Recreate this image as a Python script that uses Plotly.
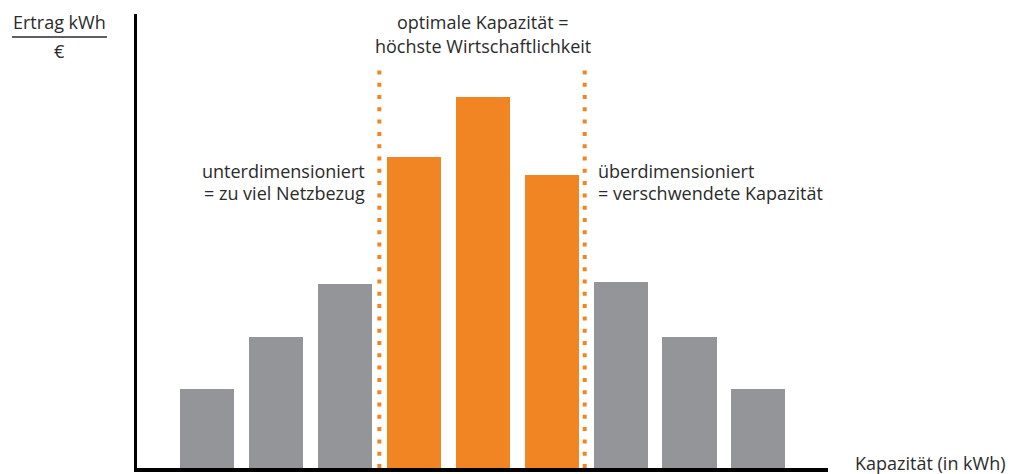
import plotly.graph_objects as go

# Data
categories = list(range(9))
values = [79, 131, 184, 311, 371, 293, 186, 131, 79]
bar_colors = ["#939598", "#939598", "#939598", "#F28523", "#F28523", "#F28523",
              "#939598", "#939598", "#939598"]
divider_positions = [2.5, 5.48]

ORANGE = "#F28523"
TEXT = "#2b2b2b"
FONT = "Open Sans"

fig = go.Figure()
fig.add_trace(go.Bar(x=categories, y=values, marker=dict(color=bar_colors, line=dict(width=0)),
                     width=0.785, hoverinfo="skip"))

# plot area in px: x 137..828, y 14..468
L, R, T, B = 137, 828, 14, 468
W, H = R - L, B - T
def px(x): return (x - L) / W
def py(y): return (B - y) / H

for xp in divider_positions:
    fig.add_shape(type="line", xref="x", yref="paper", x0=xp, x1=xp, y0=0, y1=py(67),
                  line=dict(color=ORANGE, width=4, dash="4px,8.3px"))

# fraction line
fig.add_shape(type="line", xref="paper", yref="paper", x0=px(12), x1=px(107), y0=py(37), y1=py(37),
              line=dict(color=TEXT, width=1.5))

def ann(text, x, y, xanchor="center", xref="paper"):
    fig.add_annotation(text=text, x=x, y=py(y), xref=xref, yref="paper", showarrow=False,
                       xanchor=xanchor, yanchor="middle", font=dict(family=FONT, size=18, color=TEXT))

ann("Ertrag kWh", px(59.5), 22)
ann("€", px(59.5), 51)
ann("optimale Kapazität =", 4, 22, xref="x")
ann("höchste Wirtschaftlichkeit", 4, 46, xref="x")
ann("unterdimensioniert", px(367), 171, xanchor="right")
ann("= zu viel Netzbezug", px(367), 193, xanchor="right")
ann("überdimensioniert", px(596), 171, xanchor="left")
ann("= verschwendete Kapazität", px(596), 193, xanchor="left")
ann("Kapazität (in kWh)", px(853), 463, xanchor="left")

fig.update_layout(
    width=1013, height=474,
    margin=dict(l=L, r=1013 - R, t=T, b=474 - B, pad=0),
    paper_bgcolor="white", plot_bgcolor="white",
    showlegend=False,
    xaxis=dict(range=[-1.016, 9.01], showgrid=False, zeroline=False, showticklabels=False,
               ticks="", showline=True, linecolor="black", linewidth=3.5, fixedrange=True),
    yaxis=dict(range=[0, 454], showgrid=False, zeroline=False, showticklabels=False,
               ticks="", showline=True, linecolor="black", linewidth=3, fixedrange=True),
    bargap=0,
)

fig.write_html("out.html", config={"displayModeBar": False},
               post_script="document.body.style.margin='0px';document.body.style.overflow='hidden';")
